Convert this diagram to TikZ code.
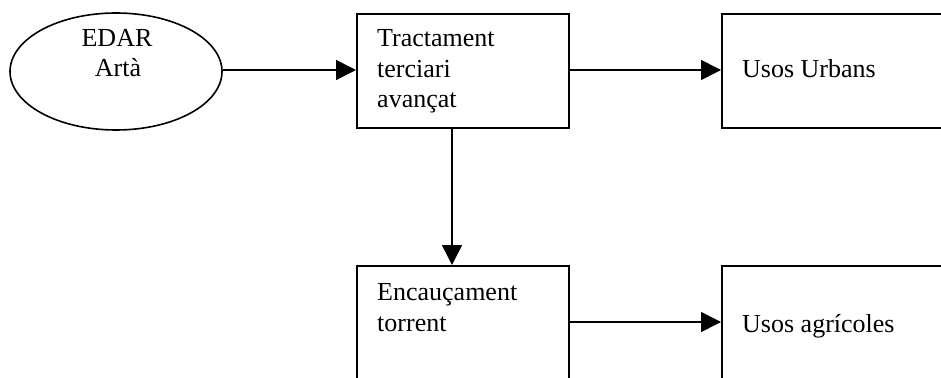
\documentclass[tikz,border=0pt]{standalone}
\usepackage{fontspec}
\setmainfont{Liberation Serif}
\usetikzlibrary{arrows.meta,shapes.geometric}
\begin{document}
\begin{tikzpicture}[x=1pt,y=-1pt,
  boxnode/.style={draw,line width=1.6pt,minimum width=212pt,minimum height=114pt,inner sep=0pt,anchor=north west},
  txt/.style={font=\fontsize{26}{31}\selectfont,anchor=base west,inner sep=0pt},
  arr/.style={line width=1.6pt,-{Triangle[length=20pt,width=20pt]}}]
\useasboundingbox (0,0) rectangle (941,377);
\clip (0,0) rectangle (941,377);
\node[draw,ellipse,line width=1.6pt,minimum width=212pt,minimum height=117pt,inner sep=0pt] (edar) at (116,71.5) {};
\node[txt,anchor=base] (t1) at (117,47) {EDAR};
\node[txt,anchor=base] (t2) at (118,77) {Artà};
\node[boxnode] (b1) at (356,13) {};
\node[boxnode,minimum width=240pt] (b2) at (721,13) {};
\node[boxnode] (b3) at (356,265) {};
\node[boxnode,minimum width=240pt] (b4) at (721,265) {};
\node[txt] (l1) at (377,47) {Tractament};
\node[txt] (l2) at (377,78) {terciari};
\node[txt] (l3) at (377,108) {avançat};
\node[txt] (l4) at (742,78) {Usos Urbans};
\node[txt] (l5) at (377,300) {Encauçament};
\node[txt] (l6) at (377,331) {torrent};
\node[txt] (l7) at (742,332) {Usos agrícoles};
\coordinate (e1) at (222,70);
\coordinate (v1) at (452,127);
\coordinate (v2) at (452,265);
\draw[arr] (edar.east |- e1) -- (b1.west |- e1);
\draw[arr] (b1.east |- e1) -- (b2.west |- e1);
\draw[arr] (b1.south -| v1) -- (b3.north -| v2);
\draw[arr] (b3.east |- 0,322) -- (b4.west |- 0,322);
\end{tikzpicture}
\end{document}
